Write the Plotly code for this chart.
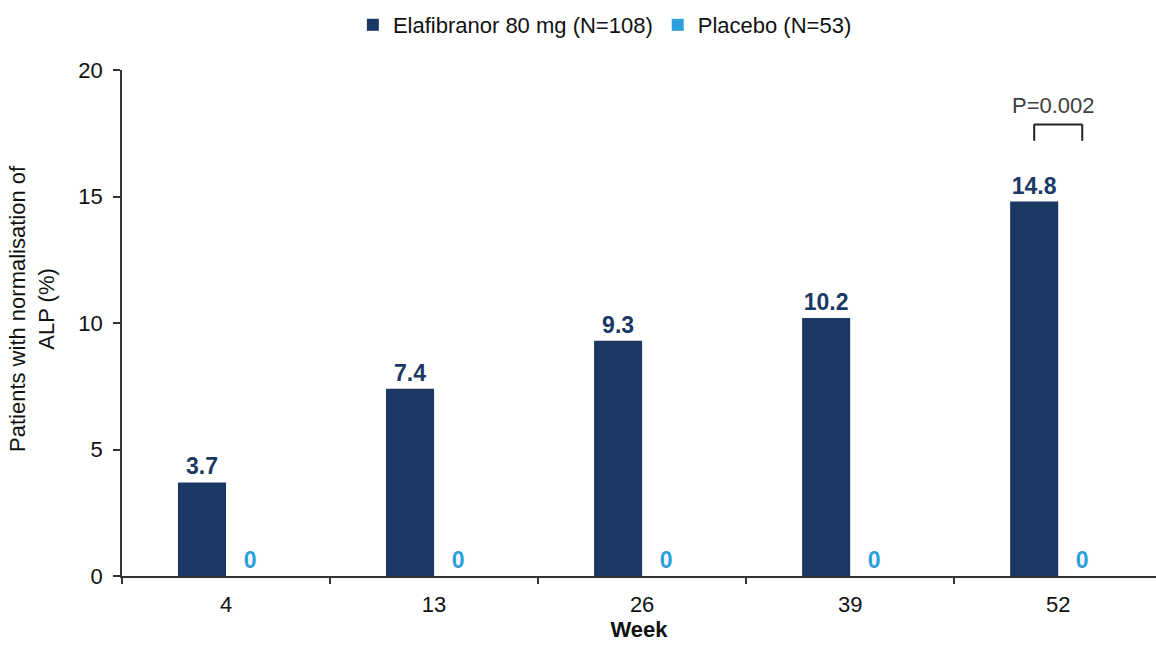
import plotly.graph_objects as go

# Proportion of patients with ALP normalisation by visit week
weeks = ["4", "13", "26", "39", "52"]
elafibranor = [3.7, 7.4, 9.3, 10.2, 14.8]
placebo = [0, 0, 0, 0, 0]
series_names = ["Elafibranor 80 mg (N=108)", "Placebo (N=53)"]
p_value_text = "P=0.002"

NAVY = "#1b3864"
SKY = "#2c9fdc"
FONT = "Liberation Sans, Arial, sans-serif"

fig = go.Figure()
fig.add_trace(go.Bar(
    x=weeks, y=elafibranor, name=series_names[0],
    marker=dict(color=NAVY, line=dict(width=0)),
    text=elafibranor, texttemplate="<b>%{y}</b>", textposition="outside",
    textfont=dict(color=NAVY, size=23, family=FONT), cliponaxis=False,
))
fig.add_trace(go.Bar(
    x=weeks, y=placebo, name=series_names[1],
    marker=dict(color=SKY, line=dict(width=0)),
    text=placebo, texttemplate="<b>%{y}</b>", textposition="outside",
    textfont=dict(color=SKY, size=23, family=FONT), cliponaxis=False,
))

# bracket over the week 52 comparison
bar_half = 0.231 / 2
lx, rx = 4 - bar_half, 4 + bar_half
y_top, y_bot = 17.85, 17.2
line = dict(color="#222222", width=2)
for x0, y0, x1, y1 in [(lx, y_bot, lx, y_top), (lx, y_top, rx, y_top), (rx, y_top, rx, y_bot)]:
    fig.add_shape(type="line", xref="x", yref="y", x0=x0, y0=y0, x1=x1, y1=y1, line=line)
fig.add_annotation(x=4, y=18.6, xref="x", yref="y", text=p_value_text, showarrow=False,
                   xshift=-5, font=dict(size=22, color="#404040", family=FONT))

# two-line rotated y-axis title (pixel position converted to paper coordinates)
fig.add_annotation(x=(32 - 122) / 1034, y=(576 - 309) / 506, xref="paper", yref="paper",
                   xanchor="center", yanchor="middle",
                   text="Patients with normalisation of<br>ALP (%)",
                   showarrow=False, textangle=-90, font=dict(size=22, color="#111111", family=FONT))

fig.update_layout(
    width=1156, height=645,
    margin=dict(l=122, r=0, t=70, b=69),
    paper_bgcolor="white", plot_bgcolor="white",
    barmode="group", bargap=0.538, bargroupgap=0,
    font=dict(family=FONT, size=22, color="#111111"),
    showlegend=True,
    legend=dict(orientation="h", x=0.467, xanchor="center", y=1 + 66 / 506, yanchor="top",
                font=dict(size=22, color="#111111"), traceorder="normal"),
    xaxis=dict(
        range=[-0.5, 4.47], showline=True, linecolor="#333333", linewidth=1.5,
        ticks="outside", tickson="boundaries", ticklen=6, tickcolor="#333333", tickwidth=1.5,
        tickfont=dict(size=22), showgrid=False, ticklabelstandoff=8,
        title=dict(text="<b>Week</b>", font=dict(size=22), standoff=4),
    ),
    yaxis=dict(
        range=[0, 20], tickvals=[0, 5, 10, 15, 20], showline=True, linecolor="#333333", linewidth=1.5,
        ticks="outside", ticklen=7, tickcolor="#333333", tickwidth=1.5, showgrid=False,
        zeroline=False, tickfont=dict(size=22), ticklabelstandoff=6,
    ),
)

fig.write_html("out.html")
